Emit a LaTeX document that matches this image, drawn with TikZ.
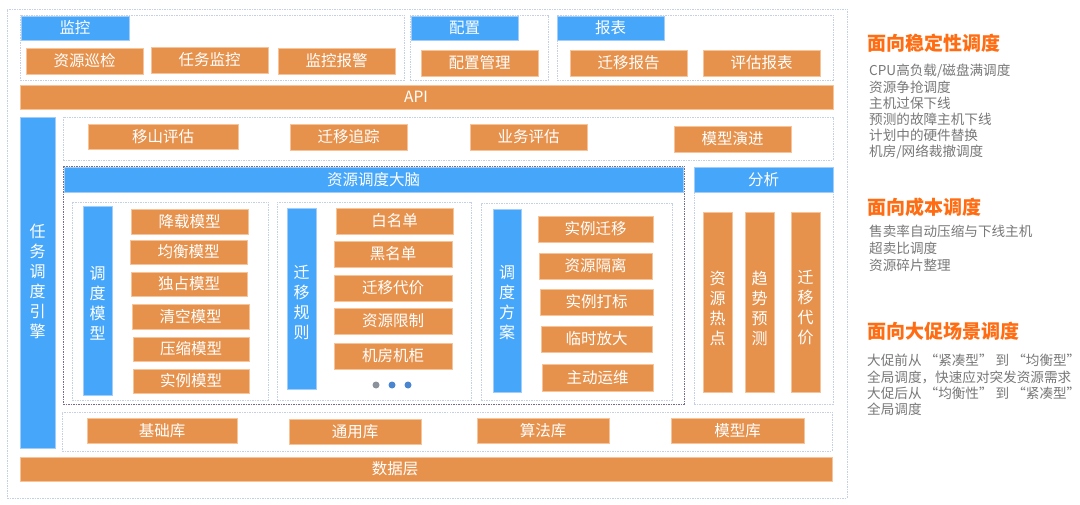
\documentclass[tikz,border=0pt]{standalone}
\usepackage{fontspec}
\setmainfont{Noto Sans CJK SC}
\definecolor{ocol}{RGB}{230,146,77}
\definecolor{oline}{RGB}{246,196,152}
\definecolor{bcol}{RGB}{70,166,250}
\definecolor{bline}{RGB}{160,205,250}
\definecolor{dcol}{RGB}{196,208,230}
\definecolor{ddark}{RGB}{118,108,140}
\definecolor{tcol}{RGB}{255,108,18}
\definecolor{gcol}{RGB}{120,120,120}
\definecolor{dotgrey}{RGB}{140,146,156}
\definecolor{dotblue}{RGB}{74,134,208}
\newcommand\Bx[7]{\node[#1, minimum width={(#5-#3)*1pt}, minimum height={(#6-#4)*1pt}] (#2) at ({(#3+#5)/2},{(#4+#6)/2}) {#7};}
\begin{document}
\begin{tikzpicture}[x=1pt,y=-1pt,
  ob/.style={fill=ocol, draw=oline, line width=0.6pt, text=white, inner sep=0pt, font=\fontsize{15.5}{18}\selectfont},
  bb/.style={fill=bcol, draw=bline, line width=0.6pt, text=white, inner sep=0pt, font=\fontsize{15.5}{18}\selectfont},
  grp/.style={draw=dcol, line width=0.8pt, dash pattern=on 1.5pt off 1pt, inner sep=0pt},
  grpd/.style={draw=ddark, line width=0.8pt, dash pattern=on 1.5pt off 1pt, inner sep=0pt},
  vt/.style={align=center, font=\fontsize{16}{20}\selectfont},
  lbl/.style={text=white, inner sep=0pt, font=\fontsize{15.5}{18}\selectfont},
  ttl/.style={text=tcol, anchor=base west, inner sep=0pt, font=\fontsize{19}{22}\selectfont\bfseries},
  body/.style={text=gcol, anchor=base west, inner sep=0pt, font=\fontsize{13.6}{16}\selectfont},
  dotn/.style={circle, inner sep=0pt, minimum size=7pt}]
\useasboundingbox (0,0) rectangle (1080,505);
\fill[white] (0,0) rectangle (1080,505);

% outer frame
\Bx{grp}{outer}{7}{9}{847}{498}{}

% top groups
\Bx{grp}{gmon}{20}{15}{404}{80}{}
\Bx{grp}{gcfg}{410}{15}{548}{80}{}
\Bx{grp}{grep}{557}{15}{833}{80}{}
\Bx{bb}{hmon}{21}{16}{129}{40}{监控}
\Bx{bb}{hcfg}{411}{16}{518}{40}{配置}
\Bx{bb}{hrep}{557}{16}{664}{40}{报表}
\Bx{ob}{m1}{26}{48}{143}{74}{资源巡检}
\Bx{ob}{m2}{151}{47}{268}{73}{任务监控}
\Bx{ob}{m3}{278}{48}{395}{74}{监控报警}
\Bx{ob}{c1}{421}{50}{538}{76}{配置管理}
\Bx{ob}{r1}{570}{50}{687}{76}{迁移报告}
\Bx{ob}{r2}{703}{50}{820}{76}{评估报表}

% API
\Bx{ob}{api}{20}{85}{833}{109}{}
\node[lbl] (apilbl) at (416,97) {API};

% engine
\Bx{bb}{engine}{20}{117}{55}{448}{}
\node[vt, text=white, inner sep=0pt] (enginelbl) at (37.5,281) {任\\务\\调\\度\\引\\擎};

% evaluation row
\Bx{grp}{geval}{63}{117}{833}{160}{}
\Bx{ob}{e1}{88}{124}{238}{149}{移山评估}
\Bx{ob}{e2}{290}{124}{407}{150}{迁移追踪}
\Bx{ob}{e3}{470}{124}{587}{150}{业务评估}
\Bx{ob}{e4}{674}{126}{791}{152}{模型演进}

% brain
\Bx{grpd}{gbrain}{63}{166}{684}{404}{}
\Bx{bb}{hbrain}{64}{167}{683}{192}{资源调度大脑}

% group 1
\Bx{grp}{g1}{72}{202}{268}{400}{}
\Bx{bb}{v1}{83}{206}{112}{395}{}
\node[vt, text=white, inner sep=0pt] (v1lbl) at (97.5,303) {调\\度\\模\\型};
\Bx{ob}{a1}{131}{209}{248}{234}{降载模型}
\Bx{ob}{a2}{130}{240}{247}{264}{均衡模型}
\Bx{ob}{a3}{131}{272}{247}{296}{独占模型}
\Bx{ob}{a4}{132}{304}{249}{329}{清空模型}
\Bx{ob}{a5}{133}{337}{249}{361}{压缩模型}
\Bx{ob}{a6}{133}{369}{249}{393}{实例模型}

% group 2
\Bx{grp}{g2}{277}{202}{471}{400}{}
\Bx{bb}{v2}{287}{208}{316}{389}{}
\node[vt, text=white, inner sep=0pt] (v2lbl) at (301.5,303) {迁\\移\\规\\则};
\Bx{ob}{b1}{336}{208}{453}{234}{白名单}
\Bx{ob}{b2}{334}{241}{452}{267}{黑名单}
\Bx{ob}{b3}{334}{275}{452}{301}{迁移代价}
\Bx{ob}{b4}{334}{308}{452}{334}{资源限制}
\Bx{ob}{b5}{334}{343}{452}{369}{机房机柜}
\node[dotn, fill=dotgrey] (dot1) at (376,385) {};
\node[dotn, fill=dotblue] (dot2) at (392,385) {};
\node[dotn, fill=dotblue] (dot3) at (408,385) {};

% group 3
\Bx{grp}{g3}{481}{203}{672}{400}{}
\Bx{bb}{v3}{493}{209}{521}{392}{}
\node[vt, text=white, inner sep=0pt] (v3lbl) at (507,303) {调\\度\\方\\案};
\Bx{ob}{p1}{538}{216}{653}{242}{实例迁移}
\Bx{ob}{p2}{539}{253}{652}{279}{资源隔离}
\Bx{ob}{p3}{540}{289}{653}{315}{实例打标}
\Bx{ob}{p4}{541}{326}{652}{352}{临时放大}
\Bx{ob}{p5}{542}{364}{653}{391}{主动运维}

% analysis
\Bx{grp}{gana}{694}{167}{833}{404}{}
\Bx{bb}{hana}{694}{167}{833}{192}{分析}
\Bx{ob}{n1}{703}{212}{732}{392}{}
\Bx{ob}{n2}{745}{212}{774}{392}{}
\Bx{ob}{n3}{791}{212}{820}{392}{}
\node[vt, text=white, inner sep=0pt] (n1lbl) at (717.5,308) {资\\源\\热\\点};
\node[vt, text=white, inner sep=0pt] (n2lbl) at (759.5,308) {趋\\势\\预\\测};
\node[vt, text=white, inner sep=0pt] (n3lbl) at (805.5,308) {迁\\移\\代\\价};

% libraries
\Bx{grp}{glib}{62}{412}{832}{451}{}
\Bx{ob}{l1}{87}{418}{237}{443}{基础库}
\Bx{ob}{l2}{289}{419}{421}{444}{通用库}
\Bx{ob}{l3}{477}{418}{609}{443}{算法库}
\Bx{ob}{l4}{671}{418}{804}{443}{模型库}

% data layer
\Bx{ob}{data}{20}{457}{832}{481}{}
\node[lbl] (datalbl) at (395,469) {数据层};

% right side text
\node[ttl] (t1) at (867,51) {面向稳定性调度};
\foreach \t [count=\i] in {CPU高负载/磁盘满调度, 资源争抢调度, 主机过保下线, 预测的故障主机下线, 计划中的硬件替换, 机房/网络裁撤调度}
  \node[body] (sa\i) at (869,{76+16.2*(\i-1)}) {\t};

\node[ttl] (t2) at (867,215) {面向成本调度};
\foreach \t [count=\i] in {售卖率自动压缩与下线主机, 超卖比调度, 资源碎片整理}
  \node[body] (sb\i) at (869,{237+16.8*(\i-1)}) {\t};

\node[ttl] (t3) at (867,339) {面向大促场景调度};
\foreach \t [count=\i] in {大促前从 “紧凑型” 到 “均衡型”, 全局调度，快速应对突发资源需求, 大促后从 “均衡性” 到 “紧凑型”, 全局调度}
  \node[body] (sc\i) at (867,{366+16.3*(\i-1)}) {\t};
\end{tikzpicture}
\end{document}
